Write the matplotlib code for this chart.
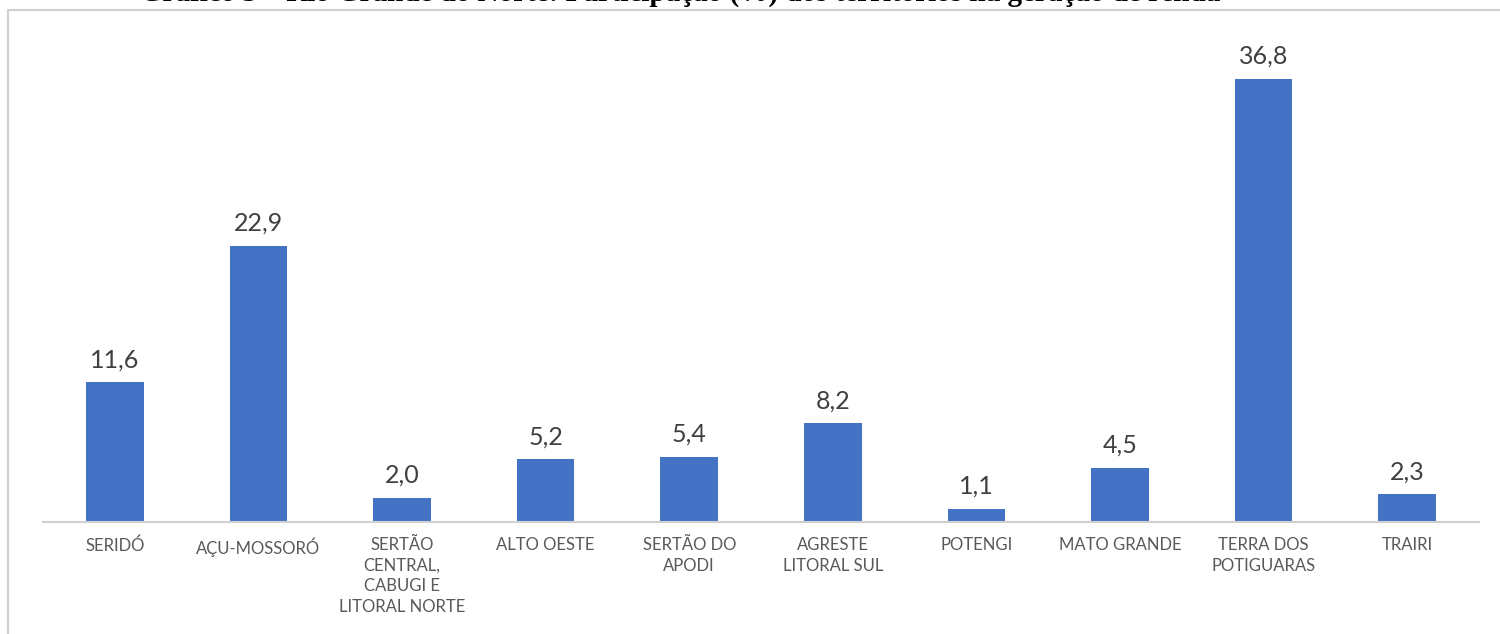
import matplotlib
matplotlib.use("Agg")
import matplotlib.pyplot as plt
from matplotlib.patches import Rectangle

categories = ["SERIDÓ", "AÇU-MOSSORÓ", "SERTÃO\nCENTRAL,\nCABUGI E\nLITORAL NORTE",
              "ALTO OESTE", "SERTÃO DO\nAPODI", "AGRESTE\nLITORAL SUL", "POTENGI",
              "MATO GRANDE", "TERRA DOS\nPOTIGUARAS", "TRAIRI"]
values = [11.6, 22.9, 2.0, 5.2, 5.4, 8.2, 1.1, 4.5, 36.8, 2.3]
value_labels = ["11,6", "22,9", "2,0", "5,2", "5,4", "8,2", "1,1", "4,5", "36,8", "2,3"]
title = "Gráfico 3 – Rio Grande do Norte: Participação (%) dos territórios na geração de renda"

W, H = 1500, 634
fig = plt.figure(figsize=(W / 100, H / 100), dpi=100)
fig.patch.set_facecolor("white")

# chart frame
fig.patches.append(Rectangle((8 / W, -0.01), 1.2, (H - 10) / H + 0.01,
                             transform=fig.transFigure, fill=False,
                             edgecolor="#d0d0d0", linewidth=1.5))

# title, clipped at the top edge as in the reference
fig.text(140 / W, 1 - 0.3 / H, title, ha="left", va="baseline",
         family="Liberation Serif", fontweight="bold", fontsize=21, color="black")

ax_left, ax_right = 43, 1479
ax_bottom, ax_top = 522, 40
ax = fig.add_axes([ax_left / W, 1 - ax_bottom / H, (ax_right - ax_left) / W,
                   (ax_bottom - ax_top) / H])
x = list(range(len(categories)))
ax.bar(x, values, width=0.40, color="#4472C4")
ax.set_xlim(-0.5, len(categories) - 0.5)
ax.set_ylim(0, 40)
for xi, v, lab in zip(x, values, value_labels):
    ax.annotate(lab, (xi, v), xytext=(0, 8), textcoords="offset points",
                ha="center", va="bottom", family="Lato", fontsize=18, color="#404040")
for s in ["top", "right", "left"]:
    ax.spines[s].set_visible(False)
ax.spines["bottom"].set_color("#d0d0d0")
ax.spines["bottom"].set_linewidth(1.5)
ax.set_yticks([])
ax.set_xticks(x)
ax.set_xticklabels(categories, family="Lato", fontsize=12, color="#595959",
                   linespacing=1.35)
ax.tick_params(axis="x", length=0, pad=11)
ax.patch.set_alpha(0)

fig.savefig("out.png", dpi=100)
